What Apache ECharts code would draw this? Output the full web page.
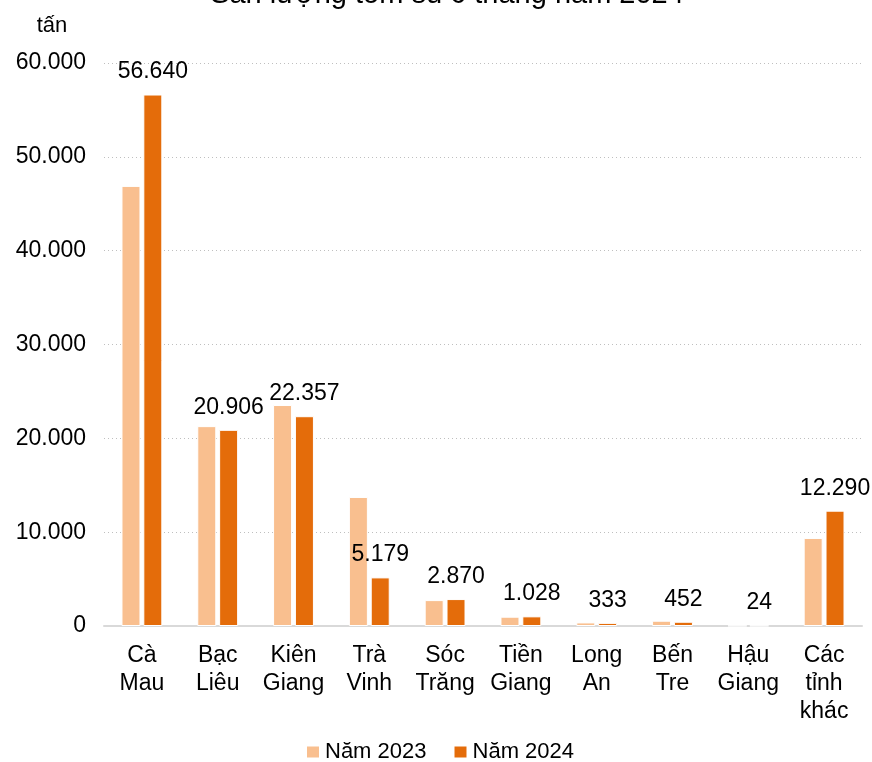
<!DOCTYPE html>
<html>
<head>
<meta charset="utf-8">
<script src="https://cdn.jsdelivr.net/npm/echarts@6/dist/echarts.min.js"></script>
<style>
  html, body { margin: 0; padding: 0; background: #fff; }
  #main { width: 872px; height: 762px; }
</style>
</head>
<body>
<div id="main"></div>
<script>
// tỉnh thành
const provinces = ['Cà Mau', 'Bạc Liêu', 'Kiên Giang', 'Trà Vinh', 'Sóc Trăng', 'Tiền Giang', 'Long An', 'Bến Tre', 'Hậu Giang', 'Các tỉnh khác']
const year2023 = [46900, 21300, 23550, 13750, 2760, 990, 380, 560, 20, 9380]
const year2024 = [56640, 20906, 22357, 5179, 2870, 1028, 333, 452, 24, 12290]
const seriesNames = ['Năm 2023', 'Năm 2024']
const yTicks = [0, 10000, 20000, 30000, 40000, 50000, 60000]

const fmt = v => String(v).replace(/\B(?=(\d{3})+(?!\d))/g, '.')
const font = 'Liberation Sans, Arial, sans-serif'

let myChart = echarts.init(document.getElementById('main'))
myChart.setOption({
  animation: false,
  title: {
    text: 'Sản lượng tôm sú 6 tháng năm 2024',
    left: 442,
    textAlign: 'center',
    top: -25,
    textStyle: { fontFamily: font, fontSize: 29, fontWeight: 'normal', color: '#000' }
  },
  legend: {
    data: seriesNames,
    left: 300,
    bottom: -6,
    itemWidth: 14,
    itemHeight: 13,
    itemGap: 26,
    icon: 'rect',
    textStyle: { fontFamily: font, fontSize: 22, color: '#000' }
  },
  grid: { left: 104, right: 10, top: 63, bottom: 136 },
  xAxis: {
    type: 'category',
    data: provinces,
    axisLine: { lineStyle: { color: '#d9d9d9', width: 2 } },
    axisTick: { show: false },
    axisLabel: {
      interval: 0,
      margin: 16,
      lineHeight: 28,
      fontFamily: font,
      fontSize: 23,
      color: '#000',
      formatter: v => v.split(' ').join('\n')
    }
  },
  yAxis: {
    type: 'value',
    min: yTicks[0],
    max: yTicks[yTicks.length - 1],
    interval: 10000,
    name: 'tấn',
    nameGap: 26,
    nameTextStyle: { fontFamily: font, fontSize: 22, color: '#000', align: 'center', padding: [0, 104, 0, 0] },
    axisLine: { show: false },
    axisTick: { show: false },
    splitLine: { lineStyle: { color: '#bfbfbf', type: [1, 3] } },
    axisLabel: { margin: 18, fontFamily: font, fontSize: 23, color: '#000', formatter: fmt }
  },
  series: [
    {
      name: seriesNames[0],
      type: 'bar',
      data: year2023,
      barWidth: 19,
      barGap: '15%',
      itemStyle: { color: '#F9BF8F', borderColor: '#fff', borderWidth: 1 }
    },
    {
      name: seriesNames[1],
      type: 'bar',
      data: year2024,
      barWidth: 19,
      barGap: '15%',
      itemStyle: { color: '#E46C0A', borderColor: '#fff', borderWidth: 1 },
      label: {
        show: true,
        position: 'top',
        distance: 11,
        fontFamily: font,
        fontSize: 23,
        color: '#000',
        formatter: p => fmt(p.value)
      }
    }
  ]
})
</script>
</body>
</html>
